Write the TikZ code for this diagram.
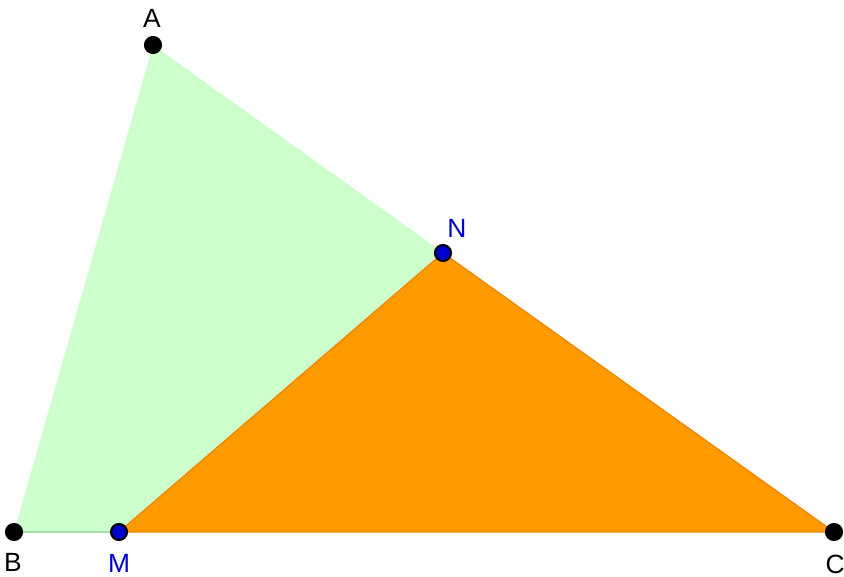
\documentclass[tikz,border=0pt]{standalone}
\usepackage{fontspec}
\setmainfont{Liberation Sans}
\usetikzlibrary{positioning}
\definecolor{lightgreen}{HTML}{CCFFCC}
\definecolor{greenedge}{HTML}{A8DDA8}
\definecolor{orangefill}{HTML}{FF9A00}
\definecolor{orangeedge}{HTML}{F08800}
\definecolor{ptblue}{HTML}{0000CC}

\begin{document}
\begin{tikzpicture}[
    x=0.02cm, y=-0.02cm,
    vertex/.style={
        circle, draw=black, line width=1.2pt, fill=black,
        minimum size=0.32cm, inner sep=0pt
    },
    midpt/.style={vertex, fill=ptblue},
    lbl/.style={font=\fontsize{15}{17}\selectfont, inner sep=0pt},
    bluelbl/.style={lbl, text=ptblue}
]
\useasboundingbox (0,0) rectangle (844,576);
\coordinate (a) at (153,45);
\coordinate (b) at (14,532);
\coordinate (c) at (834,532);
\coordinate (m) at (119,532);
\coordinate (n) at (443,253);
% triangles
\fill[lightgreen] (a) -- (b) -- (c) -- cycle;
\draw[greenedge, line width=0.6pt] (b) -- (m);
\fill[orangefill] (m) -- (n) -- (c) -- cycle;
\draw[orangeedge, line width=0.8pt, line join=round] (m) -- (n) -- (c) -- cycle;
% points
\node[vertex] (A) at (a) {};
\node[vertex] (B) at (b) {};
\node[vertex] (C) at (c) {};
\node[midpt]  (M) at (m) {};
\node[midpt]  (N) at (n) {};
% labels
\node[lbl] (lA) at (152,18) {A};
\node[lbl] (lB) at (13,562) {B};
\node[lbl] (lC) at (835,564) {C};
\node[bluelbl] (lM) at (119,563) {M};
\node[bluelbl] (lN) at (457,228) {N};
\end{tikzpicture}
\end{document}
